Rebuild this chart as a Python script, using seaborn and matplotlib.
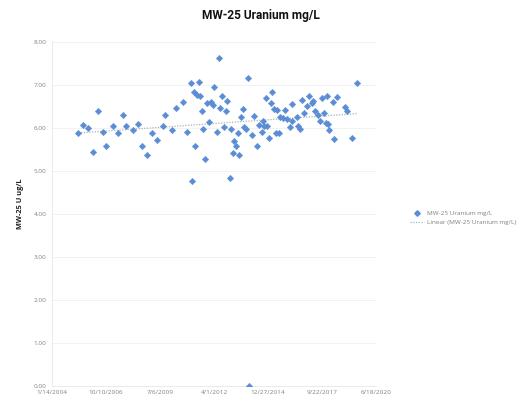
import numpy as np
import pandas as pd
import matplotlib
matplotlib.use("Agg")
import matplotlib.pyplot as plt
import matplotlib.dates as mdates
from matplotlib.lines import Line2D
import seaborn as sns

# MW-25 uranium sampling results
sample_dates = [
    "2005-05-15", "2005-08-16", "2005-11-16", "2006-02-17", "2006-05-20", "2006-08-21",
    "2006-10-01", "2007-02-22", "2007-05-26", "2007-08-12", "2007-10-15", "2008-02-28",
    "2008-05-30", "2008-08-01", "2008-11-02", "2009-02-02", "2009-05-06", "2009-08-25",
    "2009-10-12", "2010-02-08", "2010-04-28", "2010-09-10", "2010-11-12", "2011-01-26",
    "2011-02-13", "2011-03-28", "2011-04-15", "2011-05-17", "2011-07-04", "2011-07-17",
    "2011-08-17", "2011-09-16", "2011-10-17", "2011-11-18", "2011-12-30", "2012-01-31",
    "2012-03-19", "2012-04-01", "2012-05-21", "2012-07-08", "2012-07-21", "2012-09-02",
    "2012-10-09", "2012-11-04", "2012-12-03", "2013-01-22", "2013-02-10", "2013-03-13",
    "2013-04-06", "2013-05-13", "2013-06-14", "2013-07-14", "2013-08-08", "2013-09-14",
    "2013-10-14", "2013-11-15", "2013-12-16", "2014-01-15", "2014-03-11", "2014-04-12",
    "2014-06-12", "2014-07-13", "2014-09-01", "2014-09-20", "2014-10-14", "2014-11-14",
    "2014-12-14", "2015-01-20", "2015-02-21", "2015-03-17", "2015-04-23", "2015-05-19",
    "2015-06-17", "2015-07-24", "2015-08-06", "2015-09-25", "2015-11-07", "2015-12-08",
    "2016-02-07", "2016-03-10", "2016-03-21", "2016-06-10", "2016-07-10", "2016-08-11",
    "2016-09-11", "2016-10-29", "2016-12-13", "2017-01-24", "2017-03-15", "2017-04-14",
    "2017-05-15", "2017-07-15", "2017-08-16", "2017-09-16", "2017-11-04", "2017-11-30",
    "2017-12-18", "2018-01-17", "2018-02-04", "2018-04-08", "2018-05-08", "2018-06-21",
    "2018-11-21", "2018-12-23", "2019-04-06", "2019-06-27",
]
uranium = [
    5.88, 6.06, 5.99, 5.43, 6.39, 5.91,
    5.58, 6.03, 5.88, 6.29, 6.03, 5.95,
    6.09, 5.57, 5.36, 5.88, 5.72, 6.03,
    6.30, 5.94, 6.45, 6.60, 5.90, 7.04,
    4.77, 6.82, 5.58, 6.75, 7.06, 6.74,
    6.40, 5.97, 5.28, 6.57, 6.13, 6.61,
    6.53, 6.95, 5.91, 7.62, 6.46, 6.74,
    6.02, 6.40, 6.63, 4.84, 5.98, 5.41,
    5.70, 5.57, 5.89, 5.36, 6.24, 6.43,
    6.02, 5.97, 7.16, 0.00, 5.84, 6.28,
    5.57, 6.07, 5.91, 6.15, 6.05, 6.69,
    6.05, 5.76, 6.57, 6.82, 6.44, 5.88,
    6.42, 5.88, 6.26, 6.23, 6.42, 6.21,
    6.02, 6.55, 6.15, 6.26, 6.05, 5.97,
    6.65, 6.34, 6.51, 6.73, 6.57, 6.63,
    6.40, 6.30, 6.15, 6.69, 6.34, 6.12,
    6.74, 6.09, 5.95, 6.60, 5.74, 6.71,
    6.48, 6.40, 5.77, 7.04,
]
series_name = "MW-25 Uranium mg/L"
trend_name = "Linear (MW-25 Uranium mg/L)"
y_ticks = [0, 1, 2, 3, 4, 5, 6, 7, 8]
axis_start = "2004-01-14"
axis_end = "2020-06-18"

df = pd.DataFrame({"date": pd.to_datetime(sample_dates), "u": uranium})
df["dnum"] = mdates.date2num(df["date"])

sns.set_theme(style="white")
plt.rcParams["font.family"] = ["Open Sans", "DejaVu Sans"]

blue = "#5A8DD6"
trend_color = "#AAB2BE"
fig = plt.figure(figsize=(5.22, 4.05), dpi=100)
ax = fig.add_axes([52 / 522, 1 - 386 / 405, (376 - 52) / 522, (386 - 41.7) / 405])

sns.scatterplot(data=df, x="dnum", y="u", ax=ax, marker="D", s=11,
                color=blue, edgecolor=blue, linewidth=0.3, zorder=3)
sns.regplot(data=df, x="dnum", y="u", ax=ax, scatter=False, ci=None, truncate=True,
            line_kws=dict(color=trend_color, lw=0.9, ls=(0, (1, 1.2)), zorder=2))

x0 = mdates.date2num(pd.Timestamp(axis_start))
x1 = mdates.date2num(pd.Timestamp(axis_end))
ax.set_xlim(x0, x1)
ax.set_ylim(0, 8)
tick_dates = pd.date_range(axis_start, axis_end, freq="1000D")
ax.set_xticks(mdates.date2num(tick_dates))
ax.set_xticklabels([f"{d.month}/{d.day}/{d.year}" for d in tick_dates])
ax.set_yticks(y_ticks)
ax.set_yticklabels([f"{v:.2f}" for v in y_ticks])
ax.tick_params(axis="both", labelsize=4.6, colors="#808080", length=0, pad=4)
ax.tick_params(axis="x", pad=3)

ax.grid(axis="y", color="#F0F0F0", lw=0.6)
ax.set_axisbelow(True)
for side in ["top", "right"]:
    ax.spines[side].set_visible(False)
for side in ["left", "bottom"]:
    ax.spines[side].set_color("#E6E6E6")
    ax.spines[side].set_linewidth(0.6)

ax.set_xlabel("")
ax.set_ylabel("MW-25 U ug/L", fontsize=5.3, fontweight="bold", color="#222222")
ax.yaxis.set_label_coords(-0.085, 0.53)

fig.text(261 / 522, 1 - 15 / 405, series_name, ha="center", va="center",
         fontsize=8.6, fontweight="bold", color="#111111",
         family=["Roboto", "DejaVu Sans"])

handles = [
    Line2D([], [], marker="D", ls="none", color=blue, markersize=2.8),
    Line2D([], [], color=trend_color, lw=0.9, ls=(0, (1, 1.2))),
]
fig.legend(handles, [series_name, trend_name], loc="center left",
           bbox_to_anchor=(404 / 522, 1 - 218 / 405), frameon=False,
           fontsize=4.6, labelcolor="#808080", handlelength=2.2, handletextpad=0.5,
           labelspacing=0.6)

fig.savefig("out.png", dpi=100)
